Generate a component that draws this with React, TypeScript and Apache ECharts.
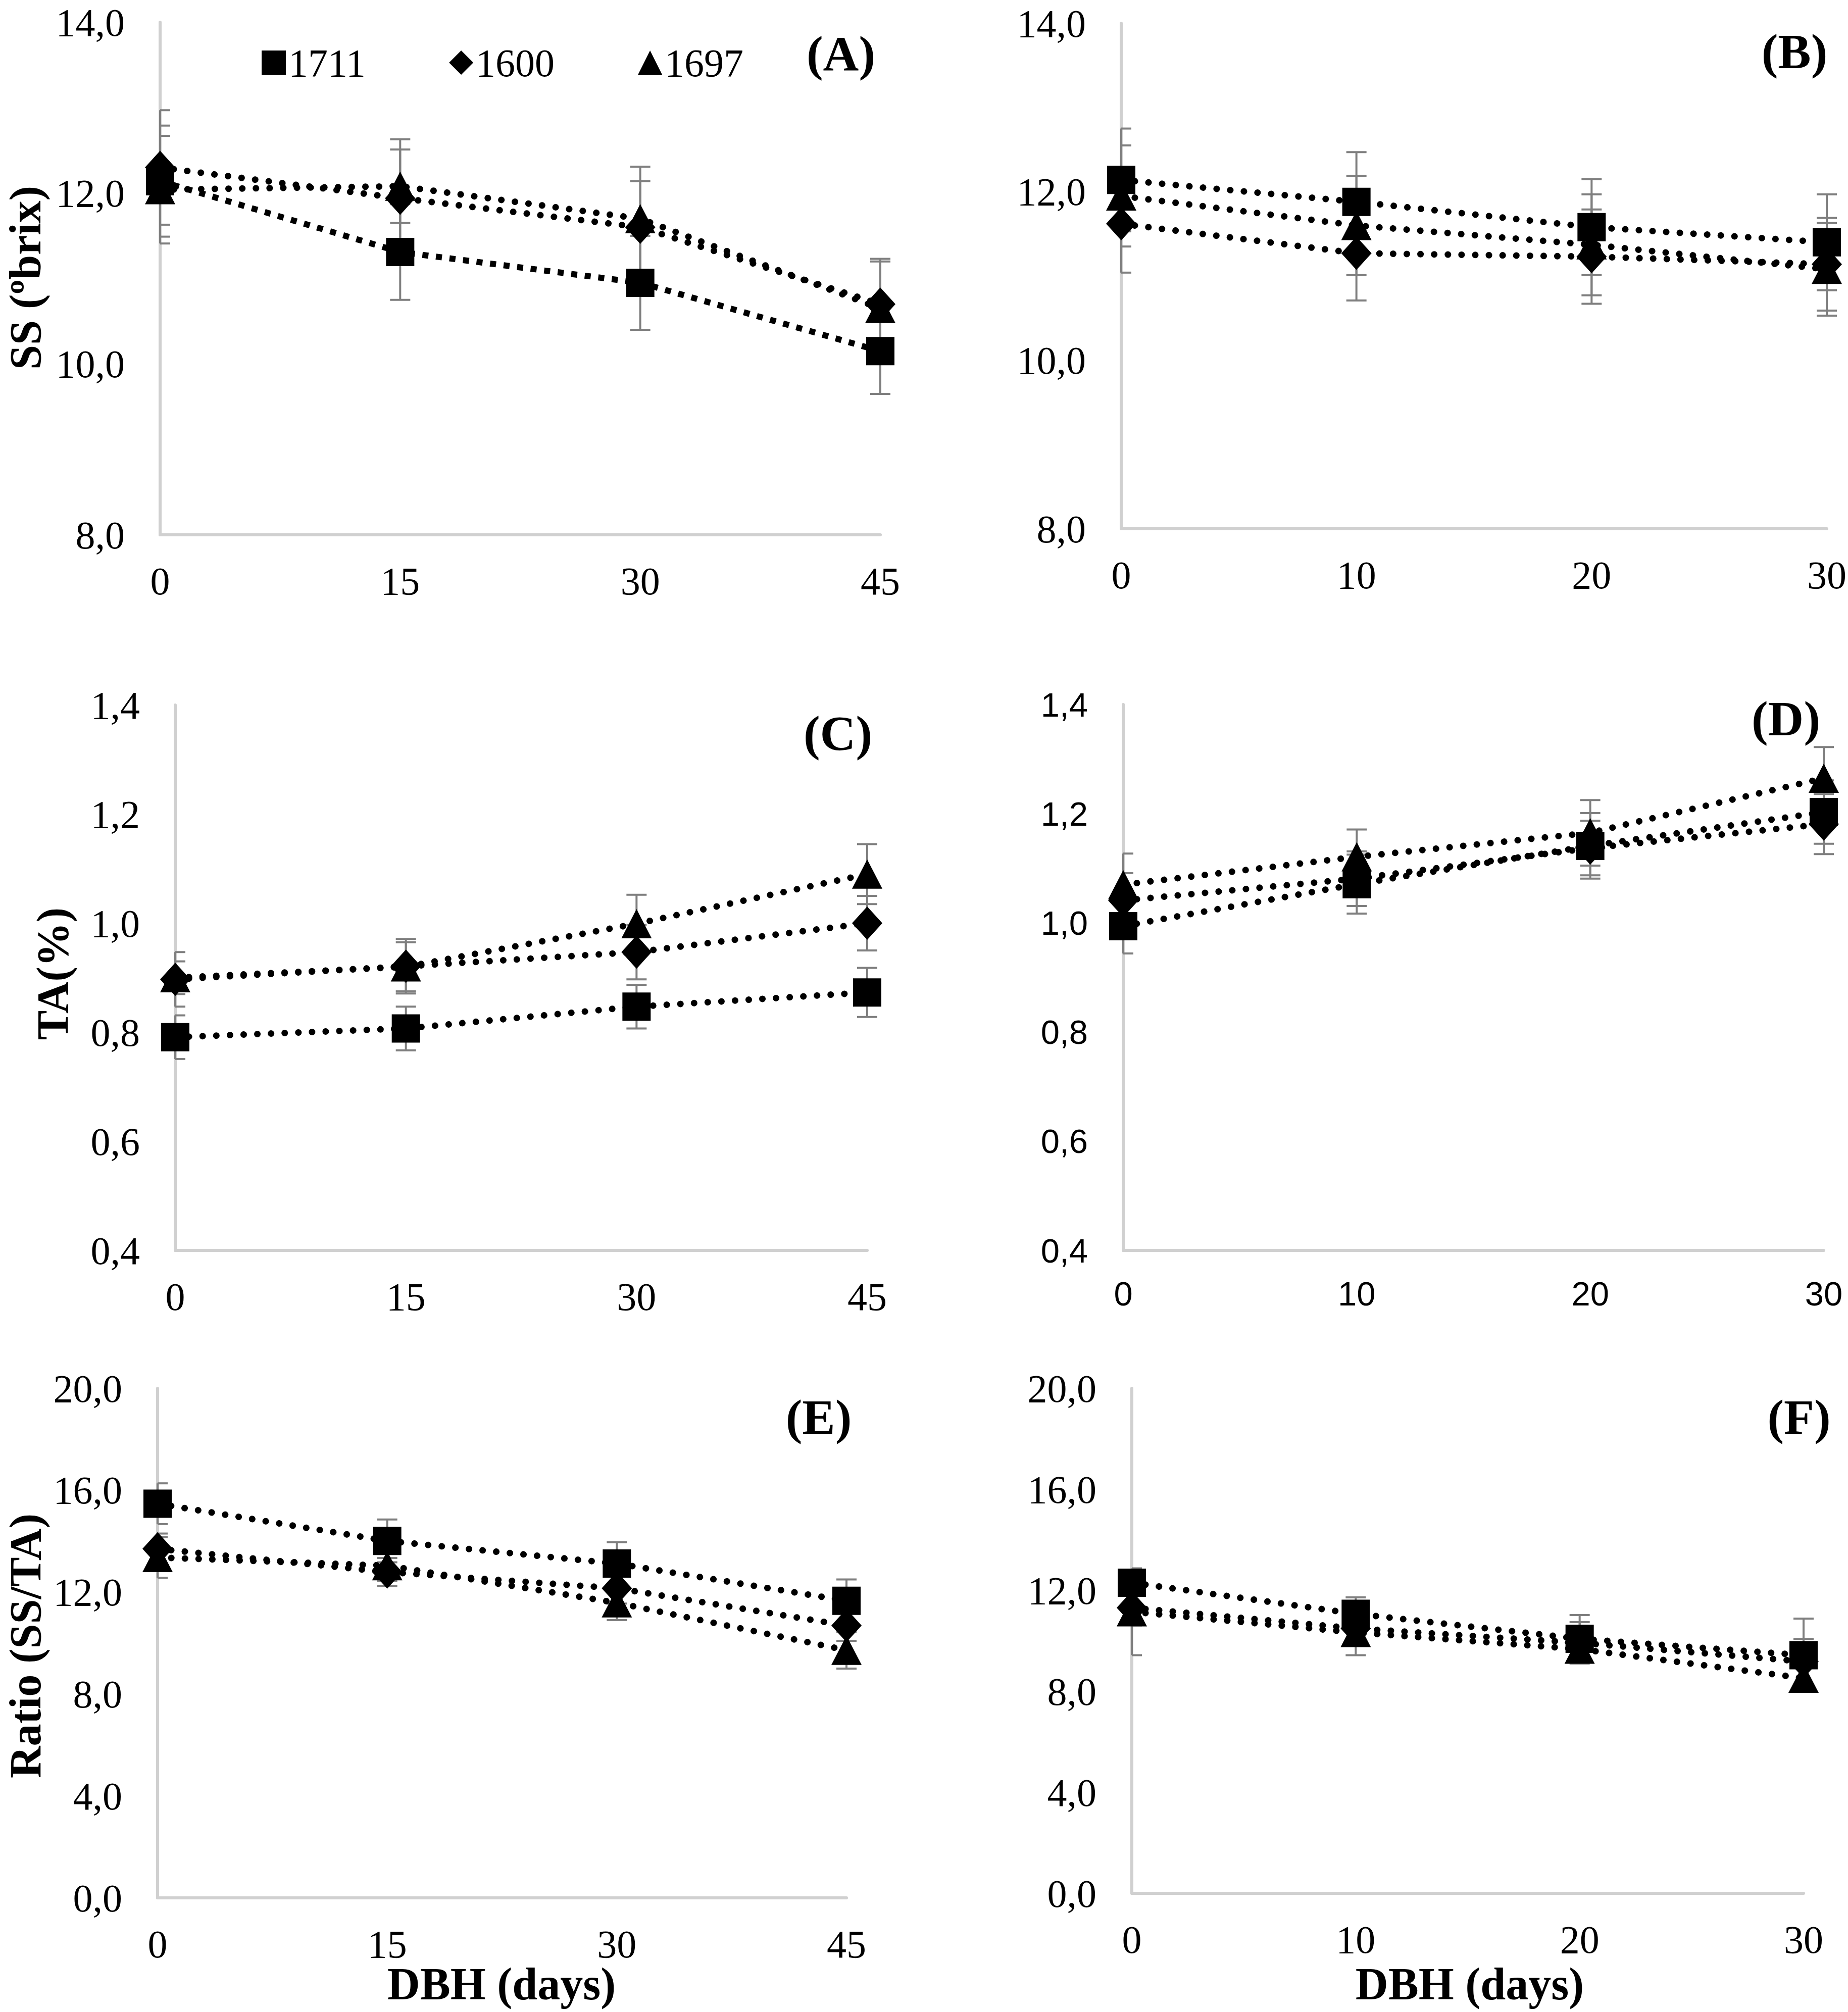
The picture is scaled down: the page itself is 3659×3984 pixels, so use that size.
import React, { useEffect, useRef } from "react";
import * as echarts from "echarts";

// ---------- data ----------
const names = ["1711", "1600", "1697"];
const daysA = [0, 15, 30, 45];
const daysB = [0, 10, 20, 30];

// (A) SS, storage 45 days
const ssA1711 = [12.14, 11.31, 10.95, 10.15];
const ssA1600 = [12.3, 11.94, 11.6, 10.7];
const ssA1697 = [12.04, 12.08, 11.7, 10.65];
const ssAErr1711 = [0.65, 0.56, 0.55, 0.5];
const ssAErr1600 = [0.67, 0.69, 0.54, 0.5];
const ssAErr1697 = [0.63, 0.43, 0.61, 0.58];

// (B) SS, storage 30 days
const ssB1711 = [12.14, 11.88, 11.58, 11.4];
const ssB1600 = [11.62, 11.27, 11.23, 11.14];
const ssB1697 = [11.95, 11.6, 11.37, 11.08];
const ssBErr1711 = [0.61, 0.59, 0.57, 0.57];
const ssBErr1600 = [0.58, 0.56, 0.56, 0.55];
const ssBErr1697 = [0.6, 0.59, 0.6, 0.55];

// (C) TA, 45 days
const taC1711 = [0.791, 0.807, 0.847, 0.873];
const taC1600 = [0.897, 0.921, 0.947, 1.0];
const taC1697 = [0.9, 0.92, 0.999, 1.09];
const taCErr1711 = [0.04, 0.04, 0.04, 0.045];
const taCErr1600 = [0.05, 0.05, 0.05, 0.05];
const taCErr1697 = [0.03, 0.045, 0.053, 0.055];

// (D) TA, 30 days
const taD1711 = [0.994, 1.071, 1.141, 1.203];
const taD1600 = [1.041, 1.081, 1.137, 1.181];
const taD1697 = [1.07, 1.121, 1.165, 1.265];
const taDErr1711 = [0.05, 0.054, 0.06, 0.058];
const taDErr1600 = [0.05, 0.05, 0.05, 0.055];
const taDErr1697 = [0.057, 0.05, 0.06, 0.057];

// (E) Ratio, 45 days
const rtE1711 = [15.47, 14.01, 13.12, 11.66];
const rtE1600 = [13.7, 12.79, 12.15, 10.69];
const rtE1697 = [13.36, 13.04, 11.58, 9.72];
const rtEErr1711 = [0.8, 0.84, 0.84, 0.84];
const rtEErr1600 = [0.6, 0.55, 0.6, 0.6];
const rtEErr1697 = [0.8, 0.6, 0.68, 0.72];

// (F) Ratio, 30 days
const rtF1711 = [12.3, 11.07, 10.08, 9.43];
const rtF1600 = [11.31, 10.49, 9.92, 9.18];
const rtF1697 = [11.15, 10.33, 9.67, 8.52];
const rtFErr1711 = [0.5, 0.65, 0.94, 1.45];
const rtFErr1600 = [0.7, 0.5, 0.82, 0.9];
const rtFErr1697 = [1.72, 0.9, 0.5, 0.4];

// axis ranges
const yRangeSS = { min: 8, max: 14, interval: 2 };
const yRangeTA = { min: 0.4, max: 1.4, interval: 0.2 };
const yRangeRT = { min: 0, max: 20, interval: 4 };

const panelLabels = ["(A)", "(B)", "(C)", "(D)", "(E)", "(F)"];
const yTitles = ["SS (ºbrix)", "TA(%)", "Ratio (SS/TA)"];
const xTitle = "DBH (days)";

// ---------- layout / style ----------
const SERIF = '"Liberation Serif", "Times New Roman", Times, serif';
const SANS = '"Liberation Sans", Arial, sans-serif';
const AXIS_GRAY = "#d0d0d0";
const ERR_GRAY = "#7f7f7f";

const grids = [
  { left: 317, top: 44, width: 1426, height: 1015 },
  { left: 2220, top: 46, width: 1397, height: 1001 },
  { left: 347, top: 1396, width: 1370, height: 1080 },
  { left: 2224, top: 1395, width: 1387, height: 1081 },
  { left: 312, top: 2749, width: 1364, height: 1009 },
  { left: 2241, top: 2749, width: 1330, height: 1000 },
];

const panels = [
  { xs: daysA, y: yRangeSS, xInt: 15, vals: [ssA1711, ssA1600, ssA1697], errs: [ssAErr1711, ssAErr1600, ssAErr1697], font: SERIF, fs: 78, squareDash: true },
  { xs: daysB, y: yRangeSS, xInt: 10, vals: [ssB1711, ssB1600, ssB1697], errs: [ssBErr1711, ssBErr1600, ssBErr1697], font: SERIF, fs: 78 },
  { xs: daysA, y: yRangeTA, xInt: 15, vals: [taC1711, taC1600, taC1697], errs: [taCErr1711, taCErr1600, taCErr1697], font: SERIF, fs: 78 },
  { xs: daysB, y: yRangeTA, xInt: 10, vals: [taD1711, taD1600, taD1697], errs: [taDErr1711, taDErr1600, taDErr1697], font: SANS, fs: 67 },
  { xs: daysA, y: yRangeRT, xInt: 15, vals: [rtE1711, rtE1600, rtE1697], errs: [rtEErr1711, rtEErr1600, rtEErr1697], font: SERIF, fs: 78 },
  { xs: daysB, y: yRangeRT, xInt: 10, vals: [rtF1711, rtF1600, rtF1697], errs: [rtFErr1711, rtFErr1600, rtFErr1697], font: SERIF, fs: 78 },
];

const symbols = ["rect", "diamond", "triangle"];
const symbolSizes: any[] = [56, [60, 66], [60, 58]];

const labelPos = [
  [1665, 106],
  [3553, 102],
  [1659, 1452],
  [3536, 1423],
  [1621, 2806],
  [3562, 2806],
];

function renderErr(params: any, api: any) {
  const x = api.value(0);
  const y = api.value(1);
  const e = api.value(2);
  const top = api.coord([x, y + e]);
  const bot = api.coord([x, y - e]);
  const cs = params.coordSys;
  const half = 20;
  const l = Math.max(top[0] - half, cs.x);
  const r = top[0] + half;
  const style = { stroke: ERR_GRAY, lineWidth: 4, fill: null };
  return {
    type: "group",
    children: [
      { type: "line", shape: { x1: top[0], y1: top[1], x2: bot[0], y2: bot[1] }, style },
      { type: "line", shape: { x1: l, y1: top[1], x2: r, y2: top[1] }, style },
      { type: "line", shape: { x1: l, y1: bot[1], x2: r, y2: bot[1] }, style },
    ],
  };
}

const fmt = (v: number) => v.toFixed(1).replace(".", ",");

function buildOption() {
  const xAxis: any[] = [];
  const yAxis: any[] = [];
  const series: any[] = [];
  panels.forEach((p, i) => {
    xAxis.push({
      type: "value",
      gridIndex: i,
      min: 0,
      max: p.xs[p.xs.length - 1],
      interval: p.xInt,
      axisLine: { show: true, onZero: false, lineStyle: { color: AXIS_GRAY, width: 6 } },
      axisTick: { show: false },
      splitLine: { show: false },
      axisLabel: { color: "#000", fontFamily: p.font, fontSize: p.fs, margin: 52 },
    });
    yAxis.push({
      type: "value",
      gridIndex: i,
      min: p.y.min,
      max: p.y.max,
      interval: p.y.interval,
      axisLine: { show: true, lineStyle: { color: AXIS_GRAY, width: 6 } },
      axisTick: { show: false },
      splitLine: { show: false },
      axisLabel: { color: "#000", fontFamily: p.font, fontSize: p.fs, lineHeight: 60, margin: 70, formatter: fmt },
    });
    // error bars first (drawn beneath)
    names.forEach((n, k) => {
      series.push({
        type: "custom",
        xAxisIndex: i,
        yAxisIndex: i,
        silent: true,
        z: 2,
        renderItem: renderErr,
        data: p.xs.map((x, j) => [x, p.vals[k][j], p.errs[k][j]]),
      });
    });
    names.forEach((n, k) => {
      const squareDots = p.squareDash && k === 0;
      series.push({
        type: "line",
        name: n,
        xAxisIndex: i,
        yAxisIndex: i,
        z: 3,
        symbol: symbols[k],
        symbolSize: symbolSizes[k],
        itemStyle: { color: "#000" },
        lineStyle: squareDots
          ? { color: "#000", width: 12, type: [12, 15], cap: "butt" }
          : { color: "#000", width: 13, type: [0.1, 27], cap: "round" },
        data: p.xs.map((x, j) => [x, p.vals[k][j]]),
      });
    });
  });

  const graphic: any[] = [];
  panelLabels.forEach((t, i) => {
    graphic.push({
      type: "text",
      x: labelPos[i][0],
      y: labelPos[i][1],
      style: {
        text: t,
        fill: "#000",
        font: `bold 98px ${SERIF}`,
        textAlign: "center",
        textVerticalAlign: "middle",
      },
    });
  });
  const yTitlePos = [
    [50, 550],
    [104, 1928],
    [50, 3259],
  ];
  yTitles.forEach((t, i) => {
    graphic.push({
      type: "text",
      x: yTitlePos[i][0],
      y: yTitlePos[i][1],
      rotation: Math.PI / 2,
      style: {
        text: t,
        fill: "#000",
        font: `bold 88px ${SERIF}`,
        lineHeight: 88,
        textAlign: "center",
        textVerticalAlign: "middle",
      },
    });
  });
  [
    [993, 3928],
    [2910, 3928],
  ].forEach((pos) => {
    graphic.push({
      type: "text",
      x: pos[0],
      y: pos[1],
      style: {
        text: xTitle,
        fill: "#000",
        font: `bold 90px ${SERIF}`,
        lineHeight: 90,
        textAlign: "center",
        textVerticalAlign: "middle",
      },
    });
  });

  return {
    animation: false,
    backgroundColor: "#fff",
    grid: grids,
    xAxis,
    yAxis,
    legend: {
      selectedMode: false,
      left: 513,
      top: 80,
      itemWidth: 48,
      itemHeight: 48,
      itemGap: 165,
      textStyle: { color: "#000", fontFamily: SERIF, fontSize: 78 },
      data: names.map((n, k) => ({ name: n, icon: symbols[k] })),
    },
    series,
    graphic,
  };
}

export default function App() {
  const ref = useRef<HTMLDivElement>(null);
  useEffect(() => {
    if (!ref.current) return;
    const chart = echarts.init(ref.current, null, { renderer: "svg" });
    chart.setOption(buildOption() as any);
    return () => chart.dispose();
  }, []);
  return (
    <div
      ref={ref}
      style={{ position: "absolute", left: 0, top: 0, width: 3659, height: 3984, background: "#fff" }}
    />
  );
}
